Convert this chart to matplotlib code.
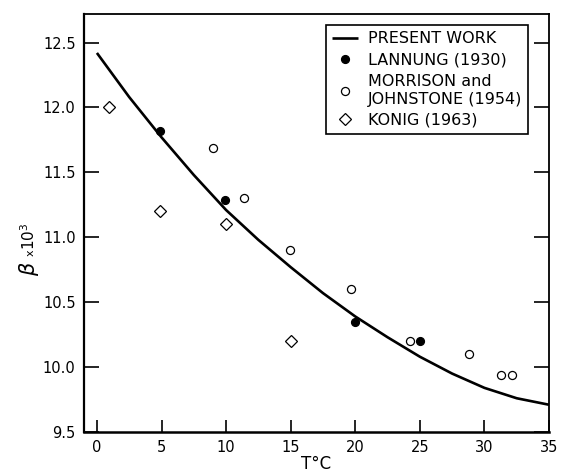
import matplotlib
matplotlib.use("Agg")
import matplotlib.pyplot as plt

# Smooth fit ("present work"), temperature in deg C vs beta x 10^3
fit_t = [0, 2.5, 5, 7.5, 10, 12.5, 15, 17.5, 20, 22.5, 25, 27.5, 30, 32.5, 35]
fit_beta = [12.42, 12.08, 11.77, 11.48, 11.21, 10.98, 10.77, 10.57, 10.39,
            10.23, 10.08, 9.95, 9.84, 9.76, 9.71]

# Lannung (1930)
lannung_t = [4.9, 9.9, 20.0, 25.0]
lannung_beta = [11.82, 11.29, 10.35, 10.20]

# Morrison and Johnstone (1954)
morrison_t = [9.0, 11.4, 14.95, 19.7, 24.2, 28.8, 31.3, 32.1]
morrison_beta = [11.69, 11.30, 10.90, 10.60, 10.20, 10.10, 9.94, 9.94]

# Konig (1963)
konig_t = [0.95, 4.9, 10.0, 15.0]
konig_beta = [12.00, 11.20, 11.10, 10.20]

x_ticks = [0, 5, 10, 15, 20, 25, 30, 35]
y_ticks = [9.5, 10.0, 10.5, 11.0, 11.5, 12.0, 12.5]

plt.rcParams["font.family"] = ["DejaVu Sans"]

fig = plt.figure(figsize=(5.63, 4.75), dpi=100)
ax = fig.add_axes([84 / 563, 1 - 432 / 475, (549 - 84) / 563, (432 - 14) / 475])

ax.plot(fit_t, fit_beta, color="black", lw=1.9, label="PRESENT WORK",
        solid_capstyle="butt", solid_joinstyle="round", zorder=2)
ax.plot(lannung_t, lannung_beta, ls="none", marker="o", ms=5.6,
        mfc="black", mec="black", label="LANNUNG (1930)", zorder=3)
ax.plot(morrison_t, morrison_beta, ls="none", marker="o", ms=5.8,
        mfc="white", mec="black", mew=0.9,
        label="MORRISON and\nJOHNSTONE (1954)", zorder=3)
ax.plot(konig_t, konig_beta, ls="none", marker="D", ms=5.8,
        mfc="white", mec="black", mew=0.9, label="KONIG (1963)", zorder=3)

ax.set_xlim(-1, 35)
ax.set_ylim(9.5, 12.72)
ax.set_xticks(x_ticks)
ax.set_yticks(y_ticks)
ax.set_xticklabels([str(v) for v in x_ticks])
ax.set_yticklabels([f"{v:.1f}" for v in y_ticks])

ax.tick_params(axis="x", direction="in", length=9, width=1.2,
               labelsize=10.5, pad=6, top=False)
ax.tick_params(axis="y", direction="in", length=11, width=1.2,
               labelsize=10.5, pad=6, left=True, right=True)

ax.spines["left"].set_linewidth(1.6)
ax.spines["bottom"].set_linewidth(1.8)
ax.spines["top"].set_linewidth(1.3)
ax.spines["right"].set_linewidth(1.3)

ax.set_xlabel("T°C", fontsize=12, labelpad=0)

# Axis label built from pieces: large beta, small "x", then 10^3
fig.text(29 / 563, 1 - 269 / 475, r"$\beta$", rotation=90, fontsize=15,
         ha="center", va="center")
fig.text(31 / 563, 1 - 253 / 475, "x", rotation=90, fontsize=8,
         ha="center", va="center")
fig.text(29 / 563, 1 - 236 / 475, r"10$^3$", rotation=90, fontsize=11,
         ha="center", va="center")

leg = ax.legend(loc="upper left", bbox_to_anchor=(326 / 563, 1 - 25 / 475),
                bbox_transform=fig.transFigure, fontsize=11.5, frameon=True,
                fancybox=False, shadow=False, framealpha=1, edgecolor="black",
                borderpad=0.4, borderaxespad=0, handlelength=1.6,
                handletextpad=0.6, labelspacing=0.4, numpoints=1)
leg.get_frame().set_linewidth(1.2)

fig.savefig("out.png", dpi=100)
